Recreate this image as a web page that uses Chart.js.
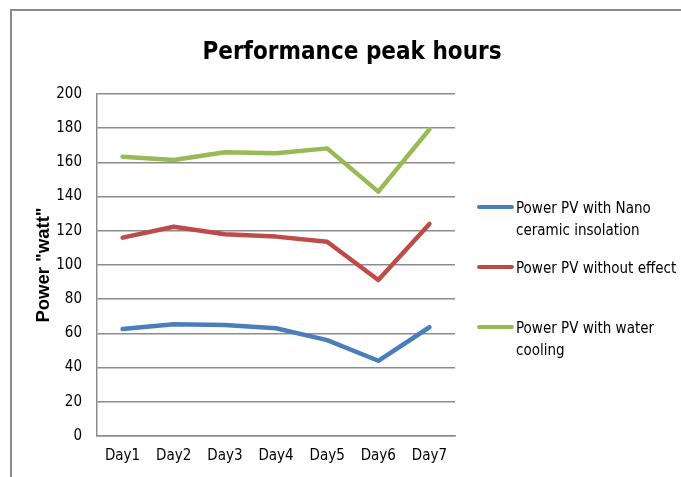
<!DOCTYPE html>
<html>
<head>
<meta charset="utf-8">
<script src="https://cdn.jsdelivr.net/npm/chart.js@4.4.1/dist/chart.umd.min.js"></script>
<style>
  html, body { margin: 0; padding: 0; background: #fff; }
  canvas { display: block; }
</style>
</head>
<body>
<canvas id="c" width="681" height="477"></canvas>
<script>
// ---- data ----
const categories = ["Day1", "Day2", "Day3", "Day4", "Day5", "Day6", "Day7"];
const nanoCeramic = [62.6, 65.3, 64.9, 63.0, 56.1, 44.0, 63.6];
const withoutEffect = [116.0, 122.4, 118.0, 116.6, 113.6, 91.2, 124.0];
const waterCooling = [163.3, 161.4, 165.9, 165.3, 168.2, 142.9, 179.3];
const seriesNames = ["Power PV with Nano ceramic insolation", "Power PV without effect", "Power PV with water cooling"];
const legendLines = [["Power PV with Nano", "ceramic insolation"], ["Power PV without effect"], ["Power PV with water", "cooling"]];
const yTicks = [0, 20, 40, 60, 80, 100, 120, 140, 160, 180, 200];
const chartTitle = "Performance peak hours";
const yAxisTitle = 'Power "watt"';

const colors = ["#4A7EBB", "#BE4B48", "#98B954"];
const cond = "'DejaVu Sans Condensed', 'DejaVu Sans', sans-serif";

const framePlugin = {
  id: 'frame',
  beforeDraw(chart) {
    const ctx = chart.ctx;
    ctx.save();
    ctx.fillStyle = '#fff';
    ctx.fillRect(0, 0, chart.width, chart.height);
    ctx.strokeStyle = '#8c8c8c';
    ctx.lineWidth = 2;
    ctx.beginPath();
    ctx.moveTo(11, chart.height);
    ctx.lineTo(11, 10);
    ctx.lineTo(chart.width, 10);
    ctx.stroke();
    // chart title
    ctx.fillStyle = '#000';
    ctx.font = "bold 24px " + cond;
    ctx.textAlign = 'center';
    ctx.textBaseline = 'alphabetic';
    ctx.fillText(chartTitle, 352, 59);
    ctx.restore();
  }
};

const legendPlugin = {
  id: 'customLegend',
  afterDraw(chart) {
    const ctx = chart.ctx;
    const lineY = [207, 267, 327];
    const baseY = [213, 273, 333];
    ctx.save();
    chart.data.datasets.forEach((ds, i) => {
      ctx.strokeStyle = ds.borderColor;
      ctx.lineWidth = 4;
      ctx.lineCap = 'round';
      ctx.beginPath();
      ctx.moveTo(479, lineY[i]);
      ctx.lineTo(512, lineY[i]);
      ctx.stroke();
      ctx.fillStyle = '#000';
      ctx.font = "15px " + cond;
      ctx.textBaseline = 'alphabetic';
      ctx.textAlign = 'left';
      legendLines[i].forEach((t, j) => {
        ctx.fillText(t, 516, baseY[i] + j * 22);
      });
    });
    ctx.restore();
  }
};

const mk = (label, data, color) => ({
  label, data,
  borderColor: color,
  backgroundColor: color,
  borderWidth: 4.5,
  pointRadius: 0,
  pointHoverRadius: 0,
  tension: 0,
  fill: false,
  borderCapStyle: 'round',
  borderJoinStyle: 'round'
});

new Chart(document.getElementById('c'), {
  type: 'line',
  data: {
    labels: categories,
    datasets: [
      mk(seriesNames[0], nanoCeramic, colors[0]),
      mk(seriesNames[1], withoutEffect, colors[1]),
      mk(seriesNames[2], waterCooling, colors[2])
    ]
  },
  options: {
    responsive: false,
    animation: false,
    devicePixelRatio: 1,
    layout: { padding: { left: 0, right: 226, top: 94, bottom: 1 } },
    plugins: {
      legend: { display: false },
      tooltip: { enabled: false },
      title: { display: false }
    },
    scales: {
      x: {
        offset: true,
        grid: { display: false, drawTicks: false },
        border: { display: true, color: '#8c8c8c', width: 1.5 },
        ticks: { color: '#000', font: { family: cond, size: 15 }, padding: 11, maxRotation: 0, autoSkip: false }
      },
      y: {
        min: 0, max: 200,
        afterFit(s) { s.width = 97; },
        afterBuildTicks(s) { s.ticks = yTicks.map(v => ({ value: v })); },
        grid: { color: '#8c8c8c', lineWidth: 1.5, drawTicks: false },
        border: { display: true, color: '#8c8c8c', width: 1.5 },
        ticks: { color: '#000', font: { family: cond, size: 15 }, padding: 15 },
        title: {
          display: true,
          text: yAxisTitle,
          color: '#000',
          font: { family: "'Liberation Sans', Arial, sans-serif", size: 18.5, weight: 'bold' },
          padding: { top: 33, bottom: 0 }
        }
      }
    }
  },
  plugins: [framePlugin, legendPlugin]
});
</script>
</body>
</html>
